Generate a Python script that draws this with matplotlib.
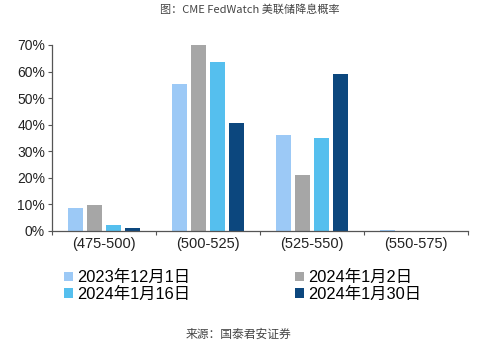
import matplotlib
matplotlib.use("Agg")
import matplotlib.pyplot as plt
import numpy as np
from matplotlib.ticker import PercentFormatter

plt.rcParams['font.family'] = ['Liberation Sans', 'Noto Sans CJK SC']

categories = ["(475-500)", "(500-525)", "(525-550)", "(550-575)"]
series_names = ["2023年12月1日", "2024年1月2日", "2024年1月16日", "2024年1月30日"]
dec_1 = [8.5, 55.5, 36.3, 0.3]
jan_2 = [9.7, 70.0, 21.2, 0.0]
jan_16 = [2.2, 63.5, 35.1, 0.0]
jan_30 = [1.0, 40.8, 59.1, 0.0]
colors = ["#9CC9F6", "#A6A6A6", "#55BFEE", "#0C477E"]

fig = plt.figure(figsize=(5, 3.43), dpi=100)
ax = fig.add_axes([52 / 500, 112 / 343, 416 / 500, 186 / 343])

x = np.arange(len(categories))
width = 0.144
step = 0.18
handles = []
for i, (vals, name, c) in enumerate(zip([dec_1, jan_2, jan_16, jan_30], series_names, colors)):
    offs = (i - 1.5) * step
    b = ax.bar(x + offs, vals, width, color=c, label=name)
    handles.append(b)

ax.set_xlim(-0.5, len(categories) - 0.5)
ax.set_ylim(0, 70)
ax.set_yticks(np.arange(0, 71, 10))
ax.yaxis.set_major_formatter(PercentFormatter(decimals=0))
ax.set_xticks(np.arange(-0.5, len(categories), 1.0))
ax.set_xticklabels([])
ax.set_xticks(x, minor=True)
ax.set_xticklabels(categories, minor=True, fontsize=10.5, color="#222222")
ax.tick_params(axis="x", which="minor", length=0, pad=4)
ax.tick_params(axis="x", which="major", length=3, color="#555555")
ax.tick_params(axis="y", length=3, labelsize=10, color="#555555", labelcolor="#222222", pad=2)
for s in ["top", "right"]:
    ax.spines[s].set_visible(False)
for s in ["left", "bottom"]:
    ax.spines[s].set_color("#555555")
    ax.spines[s].set_linewidth(0.9)

order = [0, 2, 1, 3]
fig.legend([handles[i] for i in order], [series_names[i] for i in order],
           ncol=2, loc="upper left", bbox_to_anchor=(56 / 500, 1 - 262 / 343),
           frameon=False, fontsize=11.8, handlelength=0.55, handleheight=0.55,
           handletextpad=0.25, columnspacing=6.4, labelspacing=0.1, borderpad=0)

fig.text(0.5, 1 - 10 / 343, "图：CME FedWatch 美联储降息概率", ha="center", va="center",
         fontsize=8, color="#444444", family=["Noto Sans CJK SC"])
fig.text(238 / 500, 1 - 334 / 343, "来源：国泰君安证券", ha="center", va="center",
         fontsize=8.5, color="#444444", family=["Noto Sans CJK SC"])

fig.savefig("out.png", dpi=100)
